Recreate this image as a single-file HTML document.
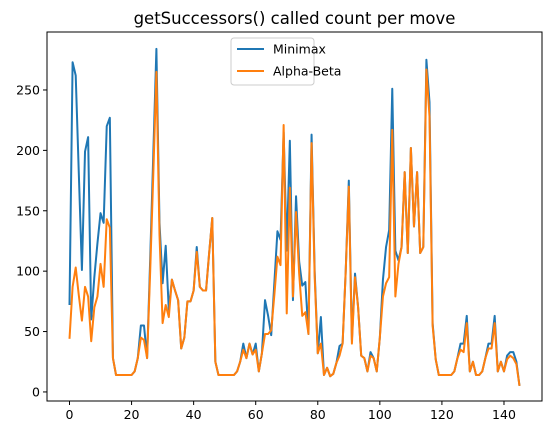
<!DOCTYPE html>
<html><head><meta charset="utf-8"><style>
html,body{margin:0;padding:0;background:#fff;}
svg{display:block;font-family:"DejaVu Sans","Liberation Sans",sans-serif;}
</style></head><body>
<svg id="chart" width="552" height="435" viewBox="0 0 552 435">
<text x="294.5" y="24" text-anchor="middle" font-size="16.5" fill="#000">getSuccessors() called count per move</text>
</svg>
<script>
const minimaxValues = [72,273,262,181,101,199,211,60,95,123,148,140,220,227,28,14,14,14,14,14,14,17,28,55,55,28,110,197,284,140,90,121,68,93,84,76,36,45,75,75,84,120,87,84,84,115,144,25,14,14,14,14,14,14,17,25,40,28,40,31,40,17,32,76,63,47,90,133,126,215,117,208,76,162,108,88,91,48,213,100,32,62,14,20,13,15,24,38,40,100,175,43,98,70,30,28,17,33,28,17,45,93,120,134,251,117,109,120,182,115,202,137,182,115,120,275,240,57,27,14,14,14,14,14,17,28,40,40,63,17,25,14,14,17,28,40,40,63,17,25,17,30,33,33,25,5];
const alphaBetaValues = [44,87,103,80,59,87,79,42,70,79,106,87,143,136,28,14,14,14,14,14,14,17,28,45,43,28,100,180,265,130,57,72,62,93,84,76,36,45,75,75,84,116,87,84,84,115,144,25,14,14,14,14,14,14,17,25,35,28,40,31,35,17,32,48,48,51,80,112,105,221,65,169,79,149,98,63,66,48,206,95,32,40,14,20,13,15,24,30,40,100,170,40,95,70,30,28,17,30,28,17,45,79,90,95,217,79,106,120,182,115,202,137,182,115,120,267,228,55,27,14,14,14,14,14,17,28,35,33,57,17,25,14,14,17,28,36,36,57,17,25,17,27,30,28,23,5];
const xTicks = [0,20,40,60,80,100,120,140];
const yTicks = [0,50,100,150,200,250];
const seriesNames = ["Minimax","Alpha-Beta"];

const NS="http://www.w3.org/2000/svg";
const svg=document.getElementById('chart');
const L=47,R=542,T=32,B=401;
const xMin=-7.25,xMax=152.25,yMin=-7.5,yMax=298;
const xs=v=>L+(v-xMin)/(xMax-xMin)*(R-L);
const ys=v=>B-(v-yMin)/(yMax-yMin)*(B-T);
function mk(tag,attrs){const e=document.createElementNS(NS,tag);for(const k in attrs)e.setAttribute(k,attrs[k]);svg.appendChild(e);return e;}

const colors=["#1f77b4","#ff7f0e"];
[minimaxValues,alphaBetaValues].forEach((vals,si)=>{
  const p=mk('polyline',{points:vals.map((v,i)=>xs(i).toFixed(2)+','+ys(v).toFixed(2)).join(' '),fill:'none',stroke:colors[si],'stroke-width':2,'stroke-linejoin':'round'});
  
  
});

const frame=mk('rect',{x:L,y:T,width:R-L,height:B-T,fill:'none',stroke:'#000','stroke-width':1});



xTicks.forEach(t=>{
  const tk=mk('line',{x1:xs(t),x2:xs(t),y1:B,y2:B+4,stroke:'#000','stroke-width':1});
  
  
  const lb=mk('text',{x:xs(t),y:B+18,'text-anchor':'middle','font-size':12.5,fill:'#000'});
  lb.textContent=t;
  
  
});
yTicks.forEach(t=>{
  const tk=mk('line',{x1:L-4,x2:L,y1:ys(t),y2:ys(t),stroke:'#000','stroke-width':1});
  
  
  const lb=mk('text',{x:L-7,y:ys(t)+4.5,'text-anchor':'end','font-size':12.5,fill:'#000'});
  lb.textContent=t;
  
  
});

const lg=mk('rect',{x:231,y:38,width:83,height:47,rx:3,fill:'#fff','fill-opacity':0.8,stroke:'#ccc','stroke-width':1});


seriesNames.forEach((n,i)=>{
  const y=49+i*22;
  const ln=mk('line',{x1:237,x2:264,y1:y,y2:y,stroke:colors[i],'stroke-width':2});
  
  
  const tx=mk('text',{x:273,y:y+4.5,'font-size':12.5,fill:'#000'});
  tx.textContent=n;
  
  
});
</script>
</body></html>
